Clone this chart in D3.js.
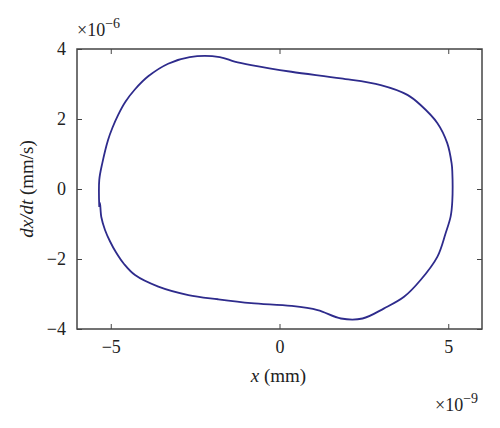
<!DOCTYPE html>
<html>
<head>
<meta charset="utf-8">
<script src="https://cdn.jsdelivr.net/npm/d3@7"></script>
<style>
body { margin: 0; background: #fff; }
svg text { font-family: "Liberation Serif", "DejaVu Serif", serif; fill: #222; }
</style>
</head>
<body>
<div id="chart"></div>
<script>
// phase trajectory, x in 1e-9 mm, dx/dt in 1e-6 mm/s
const xValues = [-5.34, -5.34, -5.25, -5.08, -4.95, -4.78, -4.56, -4.28, -3.89, -3.30, -2.66, -1.77, -1.33, -0.84, 0.35, 1.82, 3.00, 3.79, 4.18, 4.68, 4.97, 5.10, 5.12, 5.12, 5.07, 4.92, 4.68, 4.18, 3.69, 3.10, 2.46, 1.82, 1.13, 0.35, -0.84, -1.82, -2.70, -3.59, -4.28, -4.60, -4.85, -5.02, -5.17, -5.28, -5.32, -5.34];
const yValues = [-0.51, 0.26, 0.74, 1.40, 1.75, 2.12, 2.50, 2.85, 3.22, 3.58, 3.77, 3.77, 3.64, 3.54, 3.35, 3.16, 2.97, 2.69, 2.40, 1.88, 1.31, 0.73, 0.50, -0.35, -0.79, -1.27, -1.93, -2.60, -3.08, -3.41, -3.70, -3.70, -3.46, -3.34, -3.26, -3.15, -3.03, -2.79, -2.46, -2.15, -1.80, -1.50, -1.17, -0.80, -0.40, -0.51];
const xTicks = [-5, 0, 5];
const yTicks = [-4, -2, 0, 2, 4];

const width = 500, height = 428;
const plotLeft = 77, plotRight = 482, plotTop = 49, plotBottom = 329;

const svg = d3.select("#chart").append("svg")
	.attr("width", width)
	.attr("height", height);

const x = d3.scaleLinear().domain([-6, 6]).range([plotLeft, plotRight]);
const y = d3.scaleLinear().domain([-4, 4]).range([plotBottom, plotTop]);

const fmt = d => d < 0 ? "\u2212" + Math.abs(d) : String(d);

// axes with inward ticks on all four sides
function styleAxis(g) {
	g.select(".domain").remove();
	g.selectAll(".tick line").attr("stroke", "#444").attr("stroke-width", 1);
	g.selectAll(".tick text").attr("font-size", 18).attr("fill", "#222")
		.style("font-family", '"Liberation Serif", serif');
}
svg.append("g").attr("transform", `translate(0,${plotBottom})`)
	.call(d3.axisBottom(x).tickValues(xTicks).tickFormat(fmt).tickSizeInner(-5).tickPadding(11))
	.call(styleAxis);
svg.append("g").attr("transform", `translate(0,${plotTop})`)
	.call(d3.axisTop(x).tickValues(xTicks).tickFormat("").tickSizeInner(-5))
	.call(styleAxis);
svg.append("g").attr("transform", `translate(${plotLeft},0)`)
	.call(d3.axisLeft(y).tickValues(yTicks).tickFormat(fmt).tickSizeInner(-5).tickPadding(11))
	.call(styleAxis);
svg.append("g").attr("transform", `translate(${plotRight},0)`)
	.call(d3.axisRight(y).tickValues(yTicks).tickFormat("").tickSizeInner(-5))
	.call(styleAxis);

svg.append("rect")
	.attr("x", plotLeft).attr("y", plotTop)
	.attr("width", plotRight - plotLeft).attr("height", plotBottom - plotTop)
	.attr("fill", "none").attr("stroke", "#444").attr("stroke-width", 1.5);

const pts = xValues.map((d, i) => [d, yValues[i]]);
const line = d3.line().x(d => x(d[0])).y(d => y(d[1])).curve(d3.curveCatmullRom.alpha(0.5));
svg.append("path")
	.datum(pts)
	.attr("d", line)
	.attr("fill", "none")
	.attr("stroke", "#2e2b8c")
	.attr("stroke-width", 1.8)
	.attr("stroke-linejoin", "round");

// exponent labels
const e6 = svg.append("text").attr("x", plotLeft).attr("y", 36).attr("font-size", 18);
e6.append("tspan").text("\u00d710");
e6.append("tspan").attr("dy", -8).attr("font-size", 14).text("\u22126");

const e9 = svg.append("text").attr("x", 435).attr("y", 411).attr("font-size", 18);
e9.append("tspan").text("\u00d710");
e9.append("tspan").attr("dy", -8).attr("font-size", 14).text("\u22129");

// axis titles
const xl = svg.append("text")
	.attr("x", (plotLeft + plotRight) / 2 - 1).attr("y", 382)
	.attr("text-anchor", "middle").attr("font-size", 19);
xl.append("tspan").attr("font-style", "italic").text("x");
xl.append("tspan").text(" (mm)");

const yl = svg.append("text")
	.attr("transform", `translate(33,${(plotTop + plotBottom) / 2}) rotate(-90)`)
	.attr("text-anchor", "middle").attr("font-size", 19);
yl.append("tspan").attr("font-style", "italic").text("dx/dt");
yl.append("tspan").text(" (mm/s)");
</script>
</body>
</html>
